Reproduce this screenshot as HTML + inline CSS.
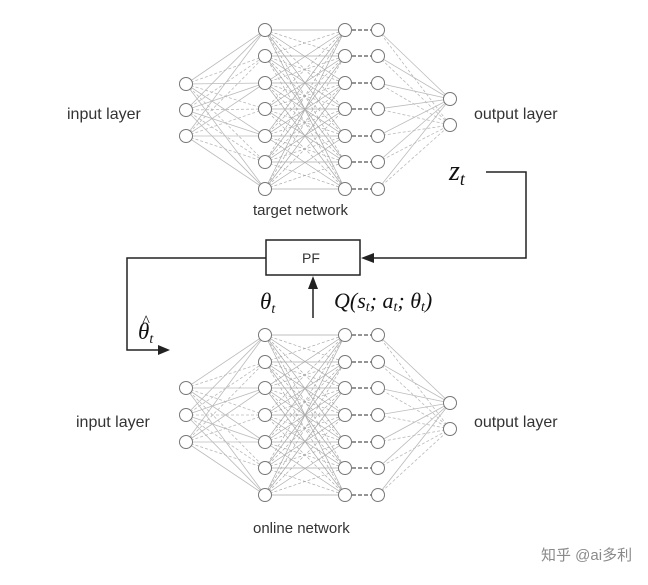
<!DOCTYPE html>
<html><head><meta charset="utf-8"><style>
html,body{margin:0;padding:0;background:#fff;}
svg{display:block;}
text{font-family:"Liberation Sans","DejaVu Sans",sans-serif;fill:#333;}
.m{font-family:"Liberation Serif",serif;font-style:italic;fill:#111;}
</style></head><body>
<svg id="s" width="648" height="585" viewBox="0 0 648 585" xmlns="http://www.w3.org/2000/svg">
<g id="net"></g>
<text x="67" y="119" font-size="16">input layer</text>
<text x="474" y="119" font-size="16">output layer</text>
<text x="253" y="215" font-size="15">target network</text>
<text x="76" y="427" font-size="16">input layer</text>
<text x="474" y="427" font-size="16">output layer</text>
<text x="253" y="533" font-size="15">online network</text>
<text x="541" y="560" font-size="15" style="fill:#8a8a8a;font-family:'Liberation Sans','Noto Sans CJK SC',sans-serif">知乎 @ai多利</text>
<rect x="266" y="240" width="94" height="35" fill="#fff" stroke="#222" stroke-width="1.5"/>
<text x="302" y="263" font-size="14">PF</text>
<polyline points="266,258 127,258 127,350 160,350" fill="none" stroke="#222" stroke-width="1.5"/>
<polygon points="170,350 158,345 158,355" fill="#222"/>
<polyline points="486,172 526,172 526,258 372,258" fill="none" stroke="#222" stroke-width="1.5"/>
<polygon points="361,258 374,253 374,263" fill="#222"/>
<line x1="313" y1="318" x2="313" y2="286" stroke="#222" stroke-width="1.5"/>
<polygon points="313,276 308,289 318,289" fill="#222"/>
<text class="m" x="449" y="180" font-size="28">z<tspan font-size="18" dy="5">t</tspan></text>
<text class="m" x="260" y="309" font-size="23">θ<tspan font-size="14" dy="4">t</tspan></text>
<text class="m" x="334" y="308" font-size="22">Q(s<tspan font-size="14" dy="3">t</tspan><tspan dy="-3">; a</tspan><tspan font-size="14" dy="3">t</tspan><tspan dy="-3">; θ</tspan><tspan font-size="14" dy="3">t</tspan><tspan dy="-3">)</tspan></text>
<text class="m" x="138" y="339" font-size="23">θ<tspan font-size="14" dy="4">t</tspan></text>
<text class="m" x="142" y="326" font-size="16">^</text>
</svg>
<script>
var g=document.getElementById('net'),h='';
function net(inY,hid,outY){
 var r=6.5;
 inY.forEach(function(a){hid.forEach(function(b,j){h+='<line x1="186" y1="'+a+'" x2="265" y2="'+b+'" stroke="#bbb" stroke-width="0.8" '+(j%2?'stroke-dasharray="3,2"':'')+'/>';});});
 hid.forEach(function(a,i){hid.forEach(function(b,j){h+='<line x1="265" y1="'+a+'" x2="345" y2="'+b+'" stroke="#aaa" stroke-width="0.7" '+((i+j)%2?'stroke-dasharray="3,2"':'')+'/>';});});
 hid.forEach(function(a){outY.forEach(function(b,j){h+='<line x1="378" y1="'+a+'" x2="450" y2="'+b+'" stroke="#bbb" stroke-width="0.8" '+(j?'stroke-dasharray="3,2"':'')+'/>';});
  h+='<line x1="352" y1="'+a+'" x2="372" y2="'+a+'" stroke="#555" stroke-width="1.3" stroke-dasharray="4,2"/>';});
 function c(x,y){h+='<circle cx="'+x+'" cy="'+y+'" r="'+r+'" fill="#fff" stroke="#777" stroke-width="1"/>';}
 inY.forEach(function(y){c(186,y)});hid.forEach(function(y){c(265,y);c(345,y);c(378,y)});outY.forEach(function(y){c(450,y)});
}
net([84,110,136],[30,56,83,109,136,162,189],[99,125]);
net([388,415,442],[335,362,388,415,442,468,495],[403,429]);
g.innerHTML=h;
</script>
</body></html>
